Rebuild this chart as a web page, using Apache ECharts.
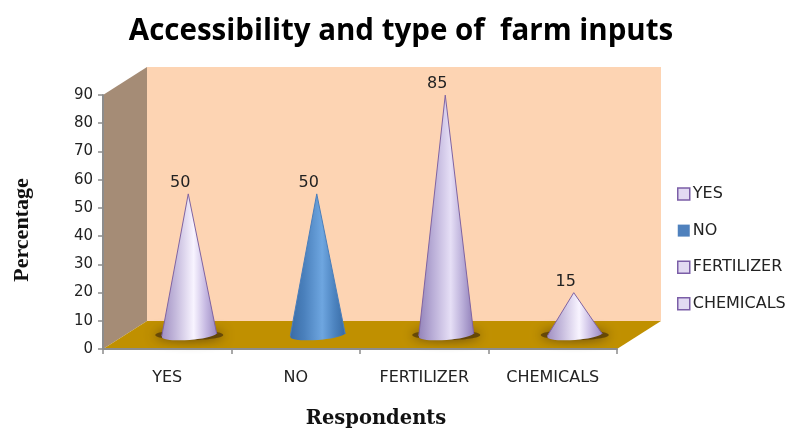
<!DOCTYPE html>
<html>
<head>
<meta charset="utf-8">
<style>html,body{margin:0;padding:0;background:#fff}#draw{width:788px;height:428px}</style>
<script src="https://cdn.jsdelivr.net/npm/echarts@6/dist/echarts.min.js"></script>
</head>
<body>
<div id="draw"></div>
<script>
var categories = ['YES', 'NO', 'FERTILIZER', 'CHEMICALS'];
var values = [50, 50, 85, 15];
var yTicks = { min: 0, max: 90, step: 10 };

// depth of the fake 3d box, in pixels
var depthX = 44, depthY = -28;
var lilac = ['#a08fc2', '#c4b9dc', '#f8f4ff', '#c6b9e2', '#9a89c0'];
var lilacDark = ['#9484ba', '#b8acd6', '#e6dff6', '#b9add8', '#8f7eb8'];
var blue = ['#3a6ca6', '#4a80bc', '#6ea6e0', '#4d84c0', '#376aa4'];
var coneColors = [lilac, blue, lilacDark, lilac];
var edgeColors = ['#8064a2', '#4a7ebb', '#8064a2', '#8064a2'];
var legendFill = ['#e2daf2', '#4f81bd', '#e2daf2', '#e2daf2'];
var legendBorder = ['#7b5ea7', '#4f81bd', '#7b5ea7', '#7b5ea7'];

var myChart = echarts.init(document.getElementById('draw'));

function renderBox(params) {
	var g = params.coordSys;
	var l = g.x, r = g.x + g.width, t = g.y, b = g.y + g.height;
	return {
		type : 'group',
		children : [ {
			type : 'rect',
			shape : { x : l + depthX, y : t + depthY, width : g.width, height : g.height },
			style : { fill : '#fdd4b3' }
		}, {
			type : 'polygon',
			shape : { points : [ [l, t], [l + depthX, t + depthY], [l + depthX, b + depthY], [l, b] ] },
			style : { fill : '#a58c76' }
		}, {
			type : 'polygon',
			shape : { points : [ [l, b], [r, b], [r + depthX, b + depthY], [l + depthX, b + depthY] ] },
			style : { fill : '#c09000' }
		} ]
	};
}

function coneRenderer(idx) {
	return function(params, api) {
		var top = api.coord([api.value(0), api.value(1)]);
		var base = api.coord([api.value(0), 0]);
		var cx = base[0] + depthX / 2, cy = base[1] + depthY / 2;
		var ax = top[0] + depthX / 2 - 1, ay = top[1] + depthY / 2;
		var rx = 27.5, ry = 5;
		var fill = new echarts.graphic.LinearGradient(0, 0, 1, 0, coneColors[idx].map(function(c, i) {
			return { offset : [0, 0.25, 0.58, 0.8, 1][i], color : c };
		}));
		var children = [];
		if (idx !== 1) {
			children.push({
				type : 'ellipse',
				shape : { cx : cx, cy : cy, rx : 34, ry : 5 },
				style : { fill : '#5a4008', opacity : 0.85, shadowBlur : 12, shadowColor : '#4a3410' }
			});
		}
		children.push({
			type : 'ellipse',
			shape : { cx : cx, cy : cy, rx : rx, ry : ry },
			rotation : 0.07,
			originX : cx,
			originY : cy,
			style : { fill : fill }
		});
		children.push({
			type : 'polygon',
			shape : { points : [ [ax, ay], [cx + rx, cy - 1], [cx - rx, cy + 1] ] },
			style : { fill : fill }
		});
		children.push({
			type : 'polyline',
			shape : { points : [ [cx - rx, cy + 1], [ax, ay], [cx + rx, cy - 1] ] },
			style : { fill : null, stroke : edgeColors[idx], lineWidth : 1, lineJoin : 'round' }
		});
		children.push({
			type : 'text',
			style : {
				text : String(values[idx]),
				x : ax - 8,
				y : ay - 11,
				align : 'center',
				verticalAlign : 'middle',
				fill : '#222',
				font : '16px "DejaVu Sans"'
			}
		});
		return { type : 'group', children : children };
	};
}

var series = [ {
	type : 'custom',
	name : 'box',
	z : 1,
	silent : true,
	renderItem : renderBox,
	data : [ [0, 0] ]
} ];
categories.forEach(function(name, i) {
	series.push({
		type : 'custom',
		name : name,
		z : 3,
		silent : true,
		renderItem : coneRenderer(i),
		encode : { x : 0, y : 1 },
		itemStyle : { color : legendFill[i], borderColor : legendBorder[i] },
		data : [ [i, values[i]] ]
	});
});

option = {
	animation : false,
	backgroundColor : '#fff',
	title : {
		text : 'Accessibility and type of  farm inputs',
		left : 396,
		textAlign : 'center',
		top : 12,
		textStyle : { fontFamily : 'Open Sans', fontWeight : 'bold', fontSize : 29.5, color : '#000' }
	},
	legend : {
		orient : 'vertical',
		left : 672,
		top : 181,
		itemWidth : 12,
		itemHeight : 12,
		itemGap : 20.6,
		selectedMode : false,
		textStyle : { fontFamily : 'DejaVu Sans', fontSize : 16, color : '#222', padding : [0, 0, 0, -2] },
		data : categories.map(function(name, i) {
			return {
				name : name,
				icon : 'rect',
				itemStyle : { color : legendFill[i], borderColor : legendBorder[i], borderWidth : i === 1 ? 0 : 1.5 }
			};
		})
	},
	grid : { left : 103, top : 95, width : 514, height : 254, outerBoundsMode : 'none' },
	xAxis : {
		type : 'category',
		data : categories,
		z : 5,
		name : 'Respondents',
		nameLocation : 'middle',
		nameGap : 60,
		nameTextStyle : { fontFamily : 'DejaVu Serif', fontWeight : 'bold', fontSize : 19.5, color : '#111', padding : [0, 0, 0, 32] },
		axisLine : { show : true, lineStyle : { color : '#8c8c8c', width : 2 } },
		axisTick : { show : true, alignWithLabel : false, length : 5, lineStyle : { color : '#8c8c8c', width : 1.5 } },
		axisLabel : { fontFamily : 'DejaVu Sans', fontSize : 16, color : '#222', margin : 21, interval : 0 }
	},
	yAxis : {
		type : 'value',
		min : yTicks.min,
		max : yTicks.max,
		interval : yTicks.step,
		z : 5,
		name : 'Percentage',
		nameLocation : 'middle',
		nameGap : 70,
		nameTextStyle : { fontFamily : 'Liberation Serif', fontWeight : 'bold', fontSize : 22, color : '#111', padding : [0, 16, 0, 0] },
		splitLine : { show : false },
		axisLine : { show : true, lineStyle : { color : '#8c8c8c', width : 2 } },
		axisTick : { show : true, length : 5, lineStyle : { color : '#8c8c8c', width : 1.5 } },
		axisLabel : { fontFamily : 'DejaVu Sans', fontSize : 15, color : '#222', margin : 10 }
	},
	series : series
};
myChart.setOption(option);
</script>
</body>
</html>
